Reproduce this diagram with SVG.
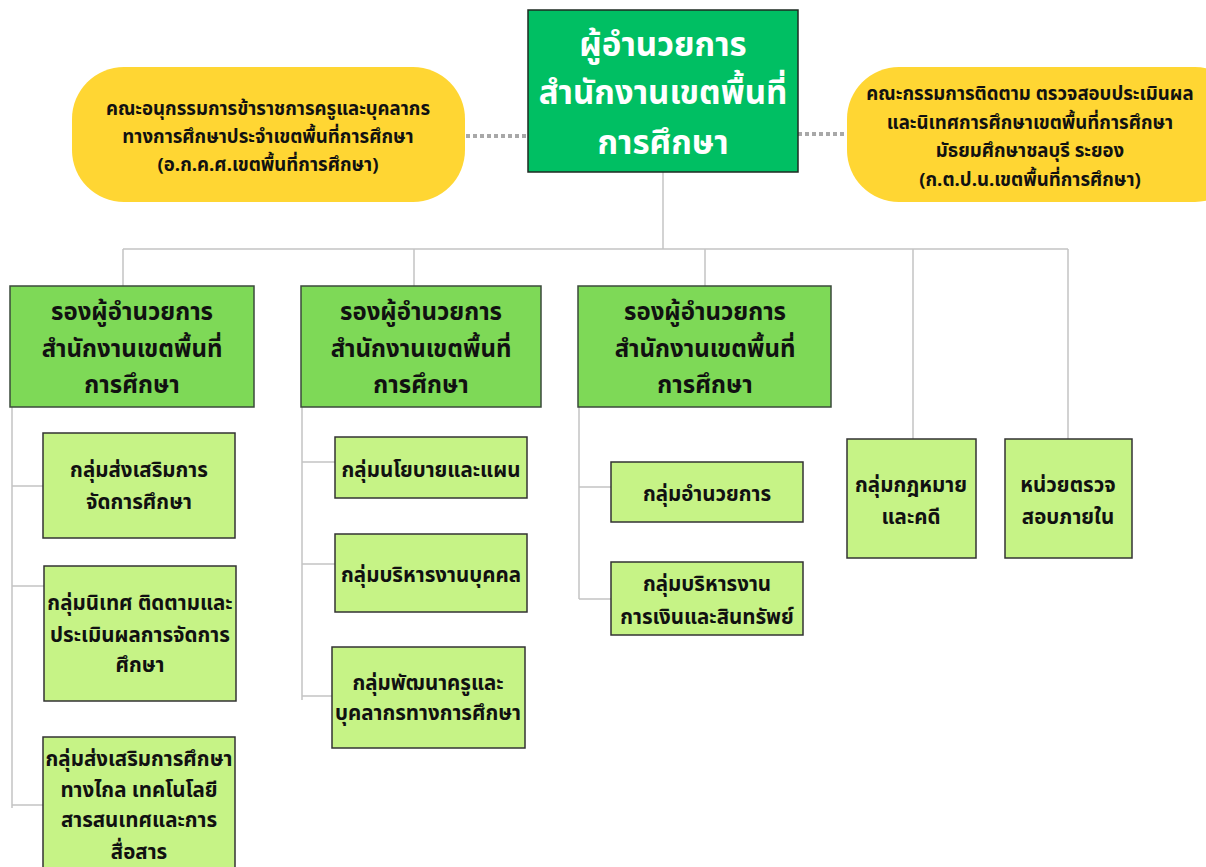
<svg xmlns="http://www.w3.org/2000/svg" width="1206" height="867" viewBox="0 0 1206 867">
<style>
text{font-family:"Noto Sans Thai","Noto Sans Thai UI","Noto Sans","DejaVu Sans",sans-serif;font-weight:bold;text-anchor:middle;fill:#111}
.root rect{fill:#00BF63;stroke:#1e2a22;stroke-width:1.5}
.root text{fill:#fff;font-size:33px}
.pill rect{fill:#FFD633;stroke:none}
.pill text{font-size:18.6px}
.l2 rect{fill:#7ED957;stroke:#3b4a3b;stroke-width:1.5}
.l2 text{font-size:24px}
.l3 rect{fill:#C6F386;stroke:#333;stroke-width:1.5}
.l3 text{font-size:20.5px}
.conn path{fill:none;stroke:#C4C4C4;stroke-width:1.5}
.conn .dot{stroke:#A8A8A8;stroke-width:4;stroke-dasharray:4 3}
</style>
<rect width="1206" height="867" fill="#fff"/>
<g id="connectors" class="conn">
<path class="dot" d="M466 136H528"/>
<path class="dot" d="M798 134H847"/>
<path d="M663 172V249"/>
<path d="M123 249H1068M123 249V286M414 249V286M705 249V286M913 249V439M1068 249V439"/>
<path d="M12 407V808M12 486H43M12 586H44M12 805H43"/>
<path d="M302 407V700M302 462H335M302 564H335M302 696H332"/>
<path d="M579 407V599M579 487H611M579 599H611"/>
</g>
<g id="root" class="root">
<rect x="528" y="10" width="270" height="162"/>
<text x="663" y="56">ผู้อำนวยการ</text>
<text x="663" y="104">สำนักงานเขตพื้นที่</text>
<text x="663" y="154">การศึกษา</text>
</g>
<g id="committee-left" class="pill">
<rect x="72" y="67" width="393" height="135" rx="52"/>
<text x="268" y="115">คณะอนุกรรมการข้าราชการครูและบุคลากร</text>
<text x="268" y="143">ทางการศึกษาประจำเขตพื้นที่การศึกษา</text>
<text x="268" y="171">(อ.ก.ค.ศ.เขตพื้นที่การศึกษา)</text>
</g>
<g id="committee-right" class="pill">
<rect x="847" y="67" width="400" height="135" rx="52"/>
<text x="1030" y="100">คณะกรรมการติดตาม ตรวจสอบประเมินผล</text>
<text x="1030" y="129">และนิเทศการศึกษาเขตพื้นที่การศึกษา</text>
<text x="1030" y="157">มัธยมศึกษาชลบุรี ระยอง</text>
<text x="1030" y="186">(ก.ต.ป.น.เขตพื้นที่การศึกษา)</text>
</g>
<g id="deputy1" class="l2">
<rect x="10" y="286" width="244" height="121"/>
<text x="132" y="320">รองผู้อำนวยการ</text>
<text x="132" y="357">สำนักงานเขตพื้นที่</text>
<text x="132" y="393">การศึกษา</text>
</g>
<g id="deputy2" class="l2">
<rect x="301" y="286" width="240" height="121"/>
<text x="421" y="320">รองผู้อำนวยการ</text>
<text x="421" y="357">สำนักงานเขตพื้นที่</text>
<text x="421" y="393">การศึกษา</text>
</g>
<g id="deputy3" class="l2">
<rect x="578" y="286" width="253" height="121"/>
<text x="705" y="320">รองผู้อำนวยการ</text>
<text x="705" y="357">สำนักงานเขตพื้นที่</text>
<text x="705" y="393">การศึกษา</text>
</g>
<g id="g-promote" class="l3">
<rect x="43" y="433" width="192" height="105"/>
<text x="139" y="477">กลุ่มส่งเสริมการ</text>
<text x="139" y="509">จัดการศึกษา</text>
</g>
<g id="g-supervise" class="l3">
<rect x="44" y="566" width="192" height="135"/>
<text x="140" y="610">กลุ่มนิเทศ ติดตามและ</text>
<text x="140" y="642">ประเมินผลการจัดการ</text>
<text x="140" y="672">ศึกษา</text>
</g>
<g id="g-distance" class="l3">
<rect x="43" y="737" width="192" height="140"/>
<text x="139" y="766">กลุ่มส่งเสริมการศึกษา</text>
<text x="139" y="797">ทางไกล เทคโนโลยี</text>
<text x="139" y="827">สารสนเทศและการ</text>
<text x="139" y="859">สื่อสาร</text>
</g>
<g id="g-policy" class="l3">
<rect x="335" y="437" width="192" height="61"/>
<text x="431" y="477">กลุ่มนโยบายและแผน</text>
</g>
<g id="g-personnel" class="l3">
<rect x="335" y="534" width="192" height="78"/>
<text x="431" y="582">กลุ่มบริหารงานบุคคล</text>
</g>
<g id="g-teacherdev" class="l3">
<rect x="332" y="647" width="193" height="101"/>
<text x="428" y="690">กลุ่มพัฒนาครูและ</text>
<text x="428" y="720">บุคลากรทางการศึกษา</text>
</g>
<g id="g-admin" class="l3">
<rect x="611" y="462" width="192" height="60"/>
<text x="707" y="501">กลุ่มอำนวยการ</text>
</g>
<g id="g-finance" class="l3">
<rect x="611" y="562" width="192" height="73"/>
<text x="707" y="591">กลุ่มบริหารงาน</text>
<text x="707" y="624">การเงินและสินทรัพย์</text>
</g>
<g id="g-legal" class="l3">
<rect x="847" y="439" width="129" height="119"/>
<text x="911" y="492">กลุ่มกฎหมาย</text>
<text x="911" y="524">และคดี</text>
</g>
<g id="g-audit" class="l3">
<rect x="1005" y="439" width="127" height="119"/>
<text x="1068" y="492">หน่วยตรวจ</text>
<text x="1068" y="524">สอบภายใน</text>
</g>
</svg>
